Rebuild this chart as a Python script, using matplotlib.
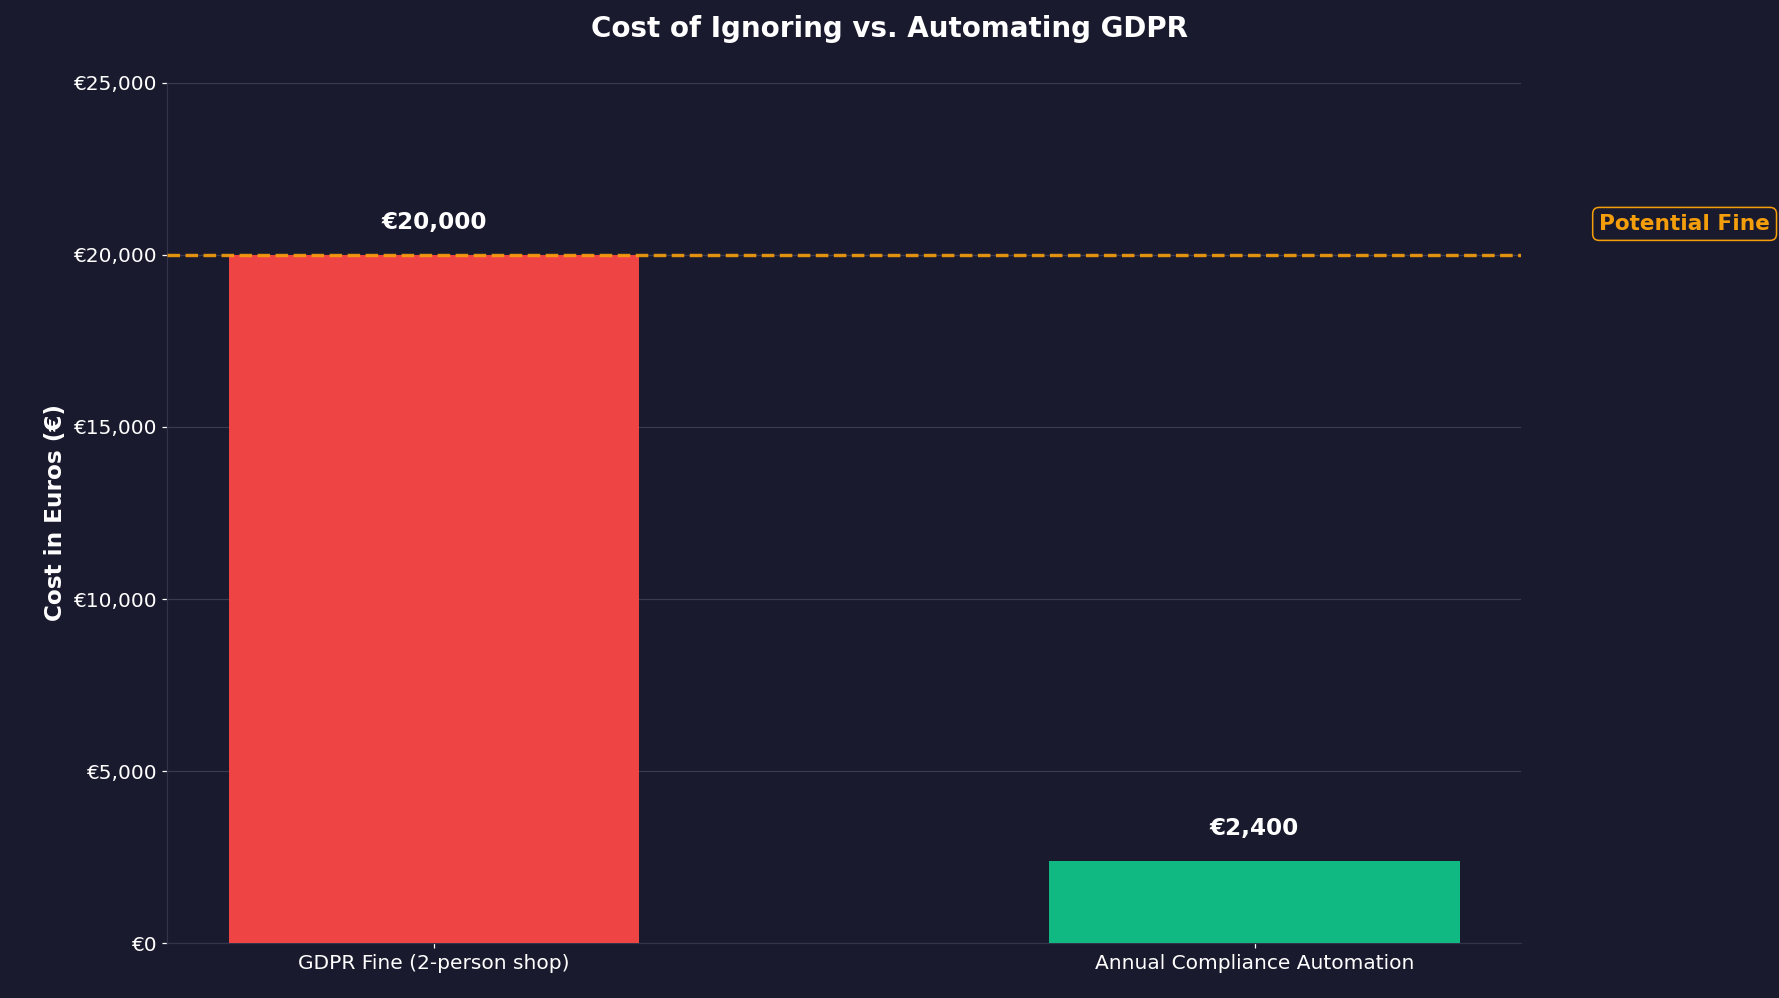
import matplotlib
matplotlib.use("Agg")
import matplotlib.pyplot as plt
from matplotlib.ticker import FuncFormatter

categories = ["GDPR Fine (2-person shop)", "Annual Compliance Automation"]
values = [20000, 2400]
colors = ["#ef4444", "#10b981"]
fine_line = 20000

bg = "#1a1a2e"
fig = plt.figure(figsize=(16, 8.975), dpi=111.2, facecolor=bg)
ax = fig.add_axes([0.094, 0.055, 0.761, 0.862], facecolor=bg)
x = range(len(categories))
ax.bar(x, values, width=0.5, color=colors, zorder=3)
ax.set_xlim(-0.325, 1.325)
ax.set_ylim(0, 25000)
ax.set_xticks(list(x))
ax.set_xticklabels(categories)
ax.yaxis.set_major_formatter(FuncFormatter(lambda v, p: f"€{v:,.0f}"))
ax.tick_params(colors="white", labelsize=13)
ax.grid(axis="y", color="#3a3a52", linewidth=0.8, zorder=0)
for s in ["top", "right"]:
    ax.spines[s].set_visible(False)
for s in ["left", "bottom"]:
    ax.spines[s].set_color("#33334a")
for xi, v in zip(x, values):
    ax.text(xi, v + 600, f"€{v:,}", ha="center", va="bottom", color="white",
            fontsize=15, fontweight="bold")
ax.axhline(fine_line, color="#f59e0b", linestyle="--", linewidth=2.2, alpha=0.9, zorder=4)
ax.text(1.42, fine_line + 900, "Potential Fine", ha="left", va="center",
        color="#f59e0b", fontsize=14, fontweight="bold", clip_on=False,
        bbox=dict(boxstyle="round,pad=0.3", facecolor=bg, edgecolor="#f59e0b"))
ax.set_ylabel("Cost in Euros (€)", color="white", fontsize=15, fontweight="bold")
fig.suptitle("Cost of Ignoring vs. Automating GDPR", color="white", fontsize=18,
             fontweight="bold", y=0.985)
fig.savefig("out.png", facecolor=bg)
